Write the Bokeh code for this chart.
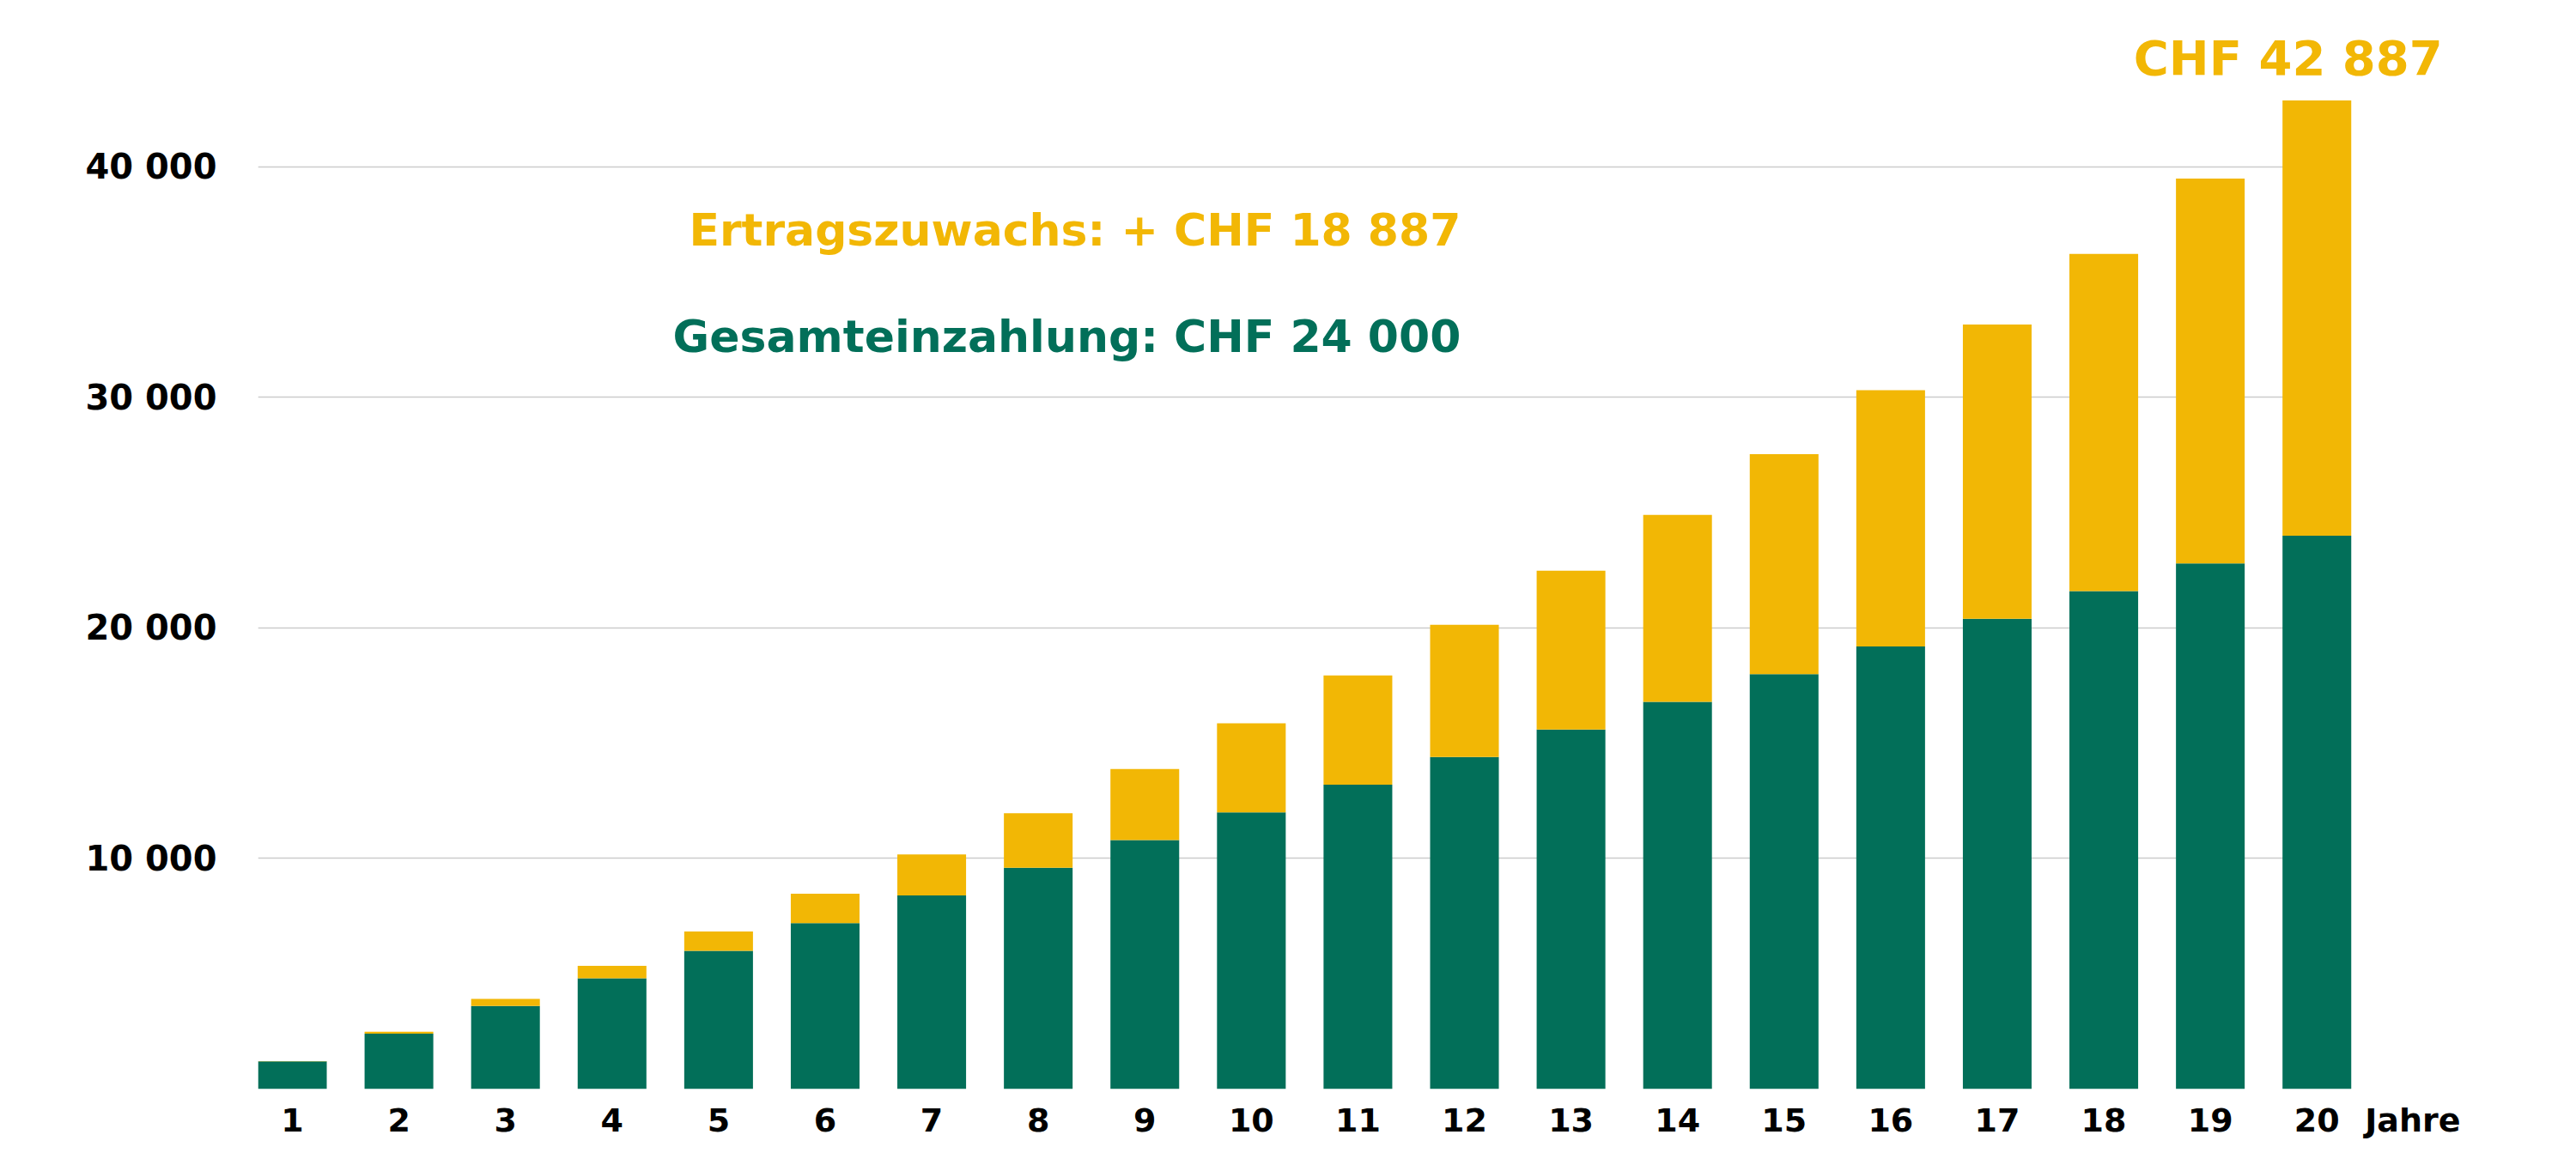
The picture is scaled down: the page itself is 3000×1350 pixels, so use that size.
from bokeh.plotting import figure
from bokeh.models import ColumnDataSource, FixedTicker, Label, Range1d, Grid
from bokeh.embed import file_html
from bokeh.resources import INLINE

# ---- data ----
jahre = list(range(1, 21))
einzahlung = [1200, 2400, 3600, 4800, 6000, 7200, 8400, 9600, 10800, 12000,
              13200, 14400, 15600, 16800, 18000, 19200, 20400, 21600, 22800, 24000]
gesamtwert = [1210, 2490, 3915, 5340, 6830, 8470, 10180, 11960, 13880, 15870,
              17940, 20140, 22490, 24910, 27540, 30320, 33170, 36230, 39500, 42887]
y_ticks = [10000, 20000, 30000, 40000]
y_tick_labels = ["10 000", "20 000", "30 000", "40 000"]
x_unit_label = "Jahre"

ertrag = [g - e for g, e in zip(gesamtwert, einzahlung)]

GREEN = "#026F59"
YELLOW = "#F2B705"
FONT = "DejaVu Sans"
BAR_W = 0.645
X0 = 1 - BAR_W / 2
X1 = 20 + BAR_W / 2
JAHRE_POS = 20.9

src = ColumnDataSource(dict(x=jahre, einzahlung=einzahlung, ertrag=ertrag))

p = figure(width=2984, height=1334, output_backend="svg", toolbar_location=None,
           x_range=Range1d(X0, 21.63), y_range=Range1d(0, 46480),
           min_border_left=300, min_border_right=84, min_border_top=20,
           min_border_bottom=66)
p.outline_line_color = None
p.background_fill_color = "white"
p.border_fill_color = "white"

p.vbar_stack(["einzahlung", "ertrag"], x="x", width=BAR_W, source=src,
             color=[GREEN, YELLOW], line_color=None)

# grid
p.xgrid.grid_line_color = None
p.ygrid.grid_line_color = "#cccccc"
p.ygrid.grid_line_width = 1.5
p.ygrid.ticker = FixedTicker(ticks=y_ticks)
p.ygrid.cross_bounds = (X0, 20)

# baseline (y = 0) limited to the bar area
base = Grid(dimension=1, ticker=FixedTicker(ticks=[0]), grid_line_color="#888888",
            grid_line_width=2, cross_bounds=(X0, X1), level="overlay")
p.add_layout(base)

# x axis (with the unit label as an extra tick)
p.xaxis.ticker = FixedTicker(ticks=jahre + [JAHRE_POS])
p.xaxis.major_label_overrides = {JAHRE_POS: x_unit_label}
p.xaxis.axis_line_color = None
p.xaxis.major_tick_line_color = None
p.xaxis.minor_tick_line_color = None
p.xaxis.major_label_text_font = FONT
p.xaxis.major_label_text_font_style = "bold"
p.xaxis.major_label_text_font_size = "38px"
p.xaxis.major_label_text_color = "black"
p.xaxis.major_label_standoff = 8

# y axis
p.yaxis.ticker = FixedTicker(ticks=y_ticks)
p.yaxis.major_label_overrides = {t: l for t, l in zip(y_ticks, y_tick_labels)}
p.yaxis.axis_line_color = None
p.yaxis.major_tick_line_color = None
p.yaxis.minor_tick_line_color = None
p.yaxis.major_label_text_font = FONT
p.yaxis.major_label_text_font_style = "bold"
p.yaxis.major_label_text_font_size = "40px"
p.yaxis.major_label_text_color = "black"
p.yaxis.major_label_standoff = 42

# annotations
p.add_layout(Label(x=19.73, y=44730, text="CHF 42 887", text_font=FONT,
                   text_font_style="bold", text_font_size="56px",
                   text_color=YELLOW, text_align="center",
                   text_baseline="middle"))
p.add_layout(Label(x=11.967, y=37244, text="Ertragszuwachs: + CHF 18 887",
                   text_font=FONT, text_font_style="bold",
                   text_font_size="52px", text_color=YELLOW,
                   text_align="right", text_baseline="middle"))
p.add_layout(Label(x=11.967, y=32626, text="Gesamteinzahlung: CHF 24 000",
                   text_font=FONT, text_font_style="bold",
                   text_font_size="52px", text_color=GREEN,
                   text_align="right", text_baseline="middle"))

open("out.html", "w").write(file_html(p, INLINE))
